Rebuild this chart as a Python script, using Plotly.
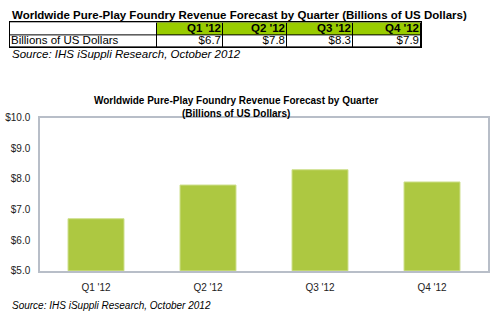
import plotly.graph_objects as go
import numpy as np

quarters = ["Q1 '12", "Q2 '12", "Q3 '12", "Q4 '12"]
revenue = [6.7, 7.8, 8.3, 7.9]
row_label = "Billions of US Dollars"
table_title = "Worldwide Pure-Play Foundry Revenue Forecast by Quarter (Billions of US Dollars)"
chart_title = "Worldwide Pure-Play Foundry Revenue Forecast by Quarter<br>(Billions of US Dollars)"
source = "Source: IHS iSuppli Research, October 2012"
y_ticks = [5, 6, 7, 8, 9, 10]

W, H = 500, 322
FONT = "Arial, Liberation Sans, sans-serif"
BAR = "#adc841"
HEAD = "#99cc00"
col_widths = [147, 66, 64, 66, 68]

def px(x):
    return x / W

def py(y):
    return 1 - y / H

edges = np.concatenate([[0], np.cumsum(col_widths)])
ncol = len(col_widths)

fig = go.Figure()

# table as heatmap cells (row 0 = data, row 1 = header)
fig.add_trace(go.Heatmap(
    x=edges, y=[0, 1, 2],
    z=[[0] * ncol, [0] + [1] * len(quarters)],
    colorscale=[[0, "white"], [1, HEAD]], zmin=0, zmax=1,
    showscale=False, xgap=1, ygap=1, hoverinfo="skip",
    xaxis="x2", yaxis="y2",
))
fig.add_trace(go.Scatter(
    x=list(edges[2:] - 2), y=[1.5] * len(quarters), mode="text",
    text=["<b>%s</b>" % q for q in quarters], textposition="middle left",
    textfont=dict(family=FONT, size=11.5, color="black"),
    hoverinfo="skip", xaxis="x2", yaxis="y2",
))
fig.add_trace(go.Scatter(
    x=list(edges[2:] - 2), y=[0.5] * len(revenue), mode="text",
    text=["$%.1f" % v for v in revenue], textposition="middle left",
    textfont=dict(family=FONT, size=11.5, color="black"),
    hoverinfo="skip", xaxis="x2", yaxis="y2",
))
fig.add_trace(go.Scatter(
    x=[1], y=[0.5], mode="text",
    text=[row_label], textposition="middle right",
    textfont=dict(family=FONT, size=11.5, color="black"),
    hoverinfo="skip", xaxis="x2", yaxis="y2",
))

fig.add_trace(go.Bar(
    x=quarters, y=revenue,
    marker=dict(color=BAR, line=dict(color="#cfe08f", width=1)),
    width=0.5, hoverinfo="skip",
))

fig.update_layout(
    width=W, height=H,
    margin=dict(l=0, r=0, t=0, b=0),
    paper_bgcolor="white", plot_bgcolor="white",
    showlegend=False,
    font=dict(family=FONT, color="#222"),
    shapes=[dict(type="rect", xref="x2", yref="y2", x0=0, x1=edges[-1], y0=0, y1=2,
                 fillcolor="black", line=dict(width=0), layer="below")],
    xaxis=dict(
        domain=[px(40), px(488)],
        showgrid=False, ticks="", showline=True, linecolor="#b8bec8", linewidth=1.5,
        mirror=True, tickfont=dict(size=10, color="#222"), ticklabelstandoff=6,
    ),
    yaxis=dict(
        domain=[py(275), py(116)],
        range=[5, 10], tickvals=y_ticks, ticktext=["$%.1f" % t for t in y_ticks],
        showgrid=False, ticks="", showline=True, linecolor="#b8bec8", linewidth=1.5,
        mirror=True, tickfont=dict(size=10, color="#222"), ticklabelstandoff=6,
        zeroline=False,
    ),
    xaxis2=dict(domain=[px(10), px(421)], range=[edges[0], edges[-1]], anchor="y2",
                showgrid=False, zeroline=False, showticklabels=False, ticks="",
                showline=True, mirror=True, linecolor="black", linewidth=1),
    yaxis2=dict(domain=[py(43), py(17)], range=[0, 2], anchor="x2",
                showgrid=False, zeroline=False, showticklabels=False, ticks="",
                showline=True, mirror=True, linecolor="black", linewidth=1),
    annotations=[
        dict(text="<b>%s</b>" % table_title, x=px(10), y=py(9), xref="paper", yref="paper",
             xanchor="left", yanchor="middle", showarrow=False,
             font=dict(family=FONT, size=11.5, color="black")),
        dict(text="<i>%s</i>" % source, x=px(10), y=py(50), xref="paper", yref="paper",
             xanchor="left", yanchor="middle", showarrow=False,
             font=dict(family=FONT, size=11.5, color="black")),
        dict(text="<b>%s</b>" % chart_title, x=px(236), y=py(104.5), xref="paper", yref="paper",
             xanchor="center", yanchor="middle", showarrow=False,
             font=dict(family=FONT, size=10, color="black")),
        dict(text="<i>%s</i>" % source, x=px(10), y=py(311), xref="paper", yref="paper",
             xanchor="left", yanchor="middle", showarrow=False,
             font=dict(family=FONT, size=10, color="black")),
    ],
)

fig.write_html("out.html")
